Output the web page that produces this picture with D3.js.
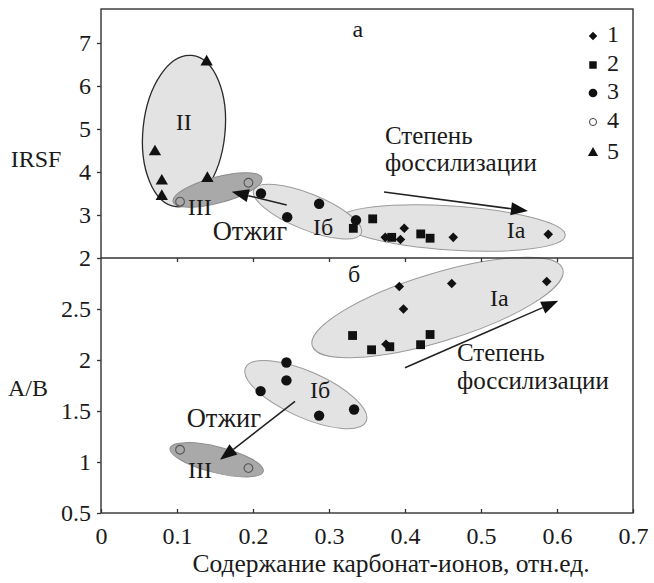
<!DOCTYPE html>
<html><head><meta charset="utf-8">
<script src="https://cdn.jsdelivr.net/npm/d3@7"></script>
<style>body{margin:0;background:#fff}svg{display:block}text{font-family:"Liberation Serif","Times New Roman",serif;fill:#1a1a1a}</style>
</head><body><svg id="c" width="654" height="583"></svg>
<script>
// ---- data ----
const xTicks = [0, 0.1, 0.2, 0.3, 0.4, 0.5, 0.6, 0.7];
const xTickLabels = ["0", "0.1", "0.2", "0.3", "0.4", "0.5", "0.6", "0.7"];
const topTicks = [2, 3, 4, 5, 6, 7];
const botTicks = [0.5, 1, 1.5, 2, 2.5];
const botTickLabels = ["0.5", "1", "1.5", "2", "2.5"];
const seriesNames = ["1", "2", "3", "4", "5"];

// IRSF (panel a)
const s1Top = [[0.374, 2.48], [0.399, 2.69], [0.394, 2.43], [0.4635, 2.48], [0.5885, 2.55]];
const s2Top = [[0.3575, 2.91], [0.332, 2.69], [0.3825, 2.48], [0.4207, 2.56], [0.433, 2.46]];
const s3Top = [[0.2105, 3.50], [0.245, 2.95], [0.287, 3.26], [0.3355, 2.88]];
const s4Top = [[0.104, 3.31], [0.194, 3.75]];
const s5Top = [[0.139, 6.56], [0.071, 4.47], [0.080, 3.79], [0.080, 3.43], [0.140, 3.85]];
// A/B (panel б)
const s1Bot = [[0.3925, 2.72], [0.4615, 2.75], [0.5865, 2.77], [0.398, 2.50], [0.375, 2.155]];
const s2Bot = [[0.331, 2.24], [0.356, 2.10], [0.380, 2.13], [0.4205, 2.15], [0.433, 2.25]];
const s3Bot = [[0.244, 1.975], [0.244, 1.80], [0.210, 1.695], [0.287, 1.455], [0.333, 1.515]];
const s4Bot = [[0.104, 1.12], [0.194, 0.94]];

// group ellipses (centre in data units)
const groupsTop = [
  {label: "Ia", cx: 0.4612, cy: 2.698, rx: 114, ry: 22, a: 3.8, dark: false},
  {label: "Iб", cx: 0.2717, cy: 3.077, rx: 58, ry: 18, a: 22, dark: false},
  {label: "II", cx: 0.1092, cy: 4.953, rx: 41, ry: 76, a: 6, dark: false, strong: true},
  {label: "III", cx: 0.1533, cy: 3.581, rx: 46, ry: 13, a: -15, dark: true}
];
const groupsBot = [
  {label: "Ia", cx: 0.4428, cy: 2.515, rx: 131, ry: 34, a: -17, dark: false},
  {label: "Iб", cx: 0.2695, cy: 1.661, rx: 66, ry: 23, a: 24, dark: false},
  {label: "III", cx: 0.1522, cy: 1.022, rx: 48, ry: 13, a: 14, dark: true}
];
// arrows [x1,y1,x2,y2] data units
const arrowsTop = [[0.3724, 3.535, 0.5618, 3.093], [0.2443, 3.233, 0.172, 3.542]];
const arrowsBot = [[0.400, 1.924, 0.6017, 2.58], [0.2553, 1.595, 0.1566, 1.022]];
// labels [text, x, y, anchor, size]
const labelsTop = [["а", 0.338, 7.14, "middle", 24], ["II", 0.109, 4.98, "middle", 24], ["III", 0.130, 3.0, "middle", 24],
  ["Отжиг", 0.147, 2.42, "start", 26.5], ["Iб", 0.279, 2.535, "start", 24], ["Iа", 0.534, 2.465, "start", 24],
  ["Степень", 0.3737, 4.66, "start", 25], ["фоссилизации", 0.3737, 4.02, "start", 25]];
const labelsBot = [["б", 0.333, 2.764, "middle", 24], ["Iа", 0.5118, 2.528, "start", 24], ["Iб", 0.275, 1.632, "start", 24],
  ["Отжиг", 0.1128, 1.346, "start", 26.5], ["III", 0.1145, 0.844, "start", 24],
  ["Степень", 0.4684, 1.99, "start", 25], ["фоссилизации", 0.4684, 1.715, "start", 25]];

// ---- layout ----
const svg = d3.select("#c");
const L = 101, R = 633, T = 9, M = 258, B = 513;
const x = d3.scaleLinear().domain([0, 0.7]).range([L, R]);
const yT = d3.scaleLinear().domain([2, 7.79]).range([M, T]);
const yB = d3.scaleLinear().domain([0.5, 3]).range([B, M]);
const FS = 24;

function drawGroups(groups, y) {
  svg.append("g").selectAll("ellipse").data(groups).join("ellipse")
    .attr("transform", d => `translate(${x(d.cx)},${y(d.cy)}) rotate(${d.a})`)
    .attr("rx", d => d.rx).attr("ry", d => d.ry)
    .attr("fill", d => d.dark ? "#a9a9a9" : "#e3e3e3")
    .attr("stroke", d => d.strong ? "#2a2a2a" : (d.dark ? "#8c8c8c" : "#9a9a9a"))
    .attr("stroke-width", d => d.strong ? 1.3 : 1);
}
drawGroups(groupsTop, yT);
drawGroups(groupsBot, yB);

const sym = {
  "1": d3.symbol().type(d3.symbolSquare).size(46),
  "2": d3.symbol().type(d3.symbolSquare).size(78),
  "3": d3.symbol().type(d3.symbolCircle).size(85),
  "4": d3.symbol().type(d3.symbolCircle).size(60),
  "5": d3.symbol().type(d3.symbolTriangle).size(66)
};
function drawSeries(data, key, y) {
  svg.append("g").selectAll("path").data(data).join("path")
    .attr("d", sym[key]())
    .attr("transform", d => `translate(${x(d[0])},${y(d[1])})` + (key === "1" ? " rotate(45)" : ""))
    .attr("fill", key === "4" ? "none" : "#111")
    .attr("stroke", key === "4" ? "#555" : "none")
    .attr("stroke-width", 1.1);
}
[[s1Top, "1"], [s2Top, "2"], [s3Top, "3"], [s4Top, "4"], [s5Top, "5"]].forEach(([d, k]) => drawSeries(d, k, yT));
[[s1Bot, "1"], [s2Bot, "2"], [s3Bot, "3"], [s4Bot, "4"]].forEach(([d, k]) => drawSeries(d, k, yB));

// arrows
function drawArrows(arr, y) {
  arr.forEach(a => {
    const x1 = x(a[0]), y1 = y(a[1]), x2 = x(a[2]), y2 = y(a[3]);
    const ang = Math.atan2(y2 - y1, x2 - x1), len = 17, w = 6.5;
    const bx = x2 - len * Math.cos(ang), by = y2 - len * Math.sin(ang);
    svg.append("line").attr("x1", x1).attr("y1", y1).attr("x2", bx).attr("y2", by)
      .attr("stroke", "#222").attr("stroke-width", 1.5);
    const px = -Math.sin(ang) * w, py = Math.cos(ang) * w;
    svg.append("path").attr("d", `M${x2},${y2}L${bx + px},${by + py}L${bx - px},${by - py}Z`).attr("fill", "#111");
  });
}
drawArrows(arrowsTop, yT);
drawArrows(arrowsBot, yB);

function drawLabels(arr, y) {
  svg.append("g").selectAll("text").data(arr).join("text")
    .attr("x", d => x(d[1])).attr("y", d => y(d[2]))
    .attr("text-anchor", d => d[3]).style("font-size", d => d[4] + "px").text(d => d[0]);
}
drawLabels(labelsTop, yT);
drawLabels(labelsBot, yB);

// frames
const frame = svg.append("g").attr("stroke", "#333").attr("stroke-width", 1.4).attr("fill", "none");
frame.append("rect").attr("x", L).attr("y", T).attr("width", R - L).attr("height", B - T);
frame.append("line").attr("x1", L).attr("x2", R).attr("y1", M).attr("y2", M);

// axes
const axT = svg.append("g").attr("transform", `translate(${L},0)`)
  .call(d3.axisLeft(yT).tickValues(topTicks).tickSize(4).tickFormat(d3.format("d")));
const axB = svg.append("g").attr("transform", `translate(${L},0)`)
  .call(d3.axisLeft(yB).tickValues(botTicks).tickSize(4).tickFormat((d, i) => botTickLabels[i]));
const axX = svg.append("g").attr("transform", `translate(0,${B})`)
  .call(d3.axisBottom(x).tickValues(xTicks).tickSize(-4).tickPadding(14).tickFormat((d, i) => xTickLabels[i]));
const axM = svg.append("g").attr("transform", `translate(0,${M})`)
  .call(d3.axisBottom(x).tickValues(xTicks.slice(1, 7)).tickSize(4).tickFormat(""));
[axT, axB, axX, axM].forEach(g => {
  g.select(".domain").remove();
  g.selectAll("line").attr("stroke", "#333").attr("stroke-width", 1.3);
  g.selectAll("text").style("font-size", FS + "px").attr("fill", "#1a1a1a");
});
axT.selectAll("text").attr("x", -10);
axB.selectAll("text").attr("x", -10);
axX.selectAll("text").attr("dy", "0.71em");

// axis titles
svg.append("text").attr("x", 36).attr("y", 167).attr("text-anchor", "middle").style("font-size", FS + "px").text("IRSF");
svg.append("text").attr("x", 28).attr("y", 396).attr("text-anchor", "middle").style("font-size", FS + "px").text("A/B");
svg.append("text").attr("x", 391).attr("y", 572).attr("text-anchor", "middle").style("font-size", "25.5px")
  .text("Содержание карбонат-ионов, отн.ед.");

// legend
const legY = [36, 65, 93, 122, 153];
const legSym = {
  "1": d3.symbol().type(d3.symbolSquare).size(36),
  "2": d3.symbol().type(d3.symbolSquare).size(56),
  "3": d3.symbol().type(d3.symbolCircle).size(60),
  "4": d3.symbol().type(d3.symbolCircle).size(40),
  "5": d3.symbol().type(d3.symbolTriangle).size(45)
};
const leg = svg.append("g").selectAll("g").data(seriesNames).join("g")
  .attr("transform", (d, i) => `translate(593,${legY[i]})`);
leg.append("path").attr("d", d => legSym[d]())
  .attr("transform", d => d === "1" ? "rotate(45)" : null)
  .attr("fill", d => d === "4" ? "none" : "#111").attr("stroke", d => d === "4" ? "#444" : "none");
leg.append("text").attr("x", 14).attr("y", 6).style("font-size", FS + "px").text(d => d);
</script></body></html>
